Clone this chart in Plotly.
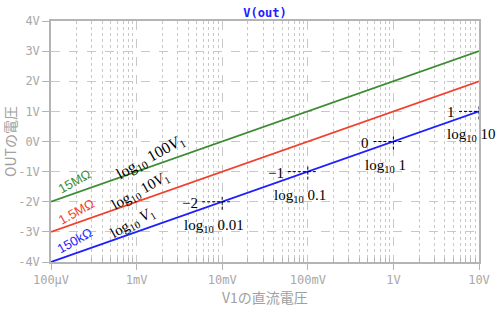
import numpy as np
import plotly.graph_objects as go

# ---- data ----
v1 = [1e-4, 1e-3, 1e-2, 1e-1, 1, 10]
out_150k = [-4, -3, -2, -1, 0, 1]
out_1p5M = [-3, -2, -1, 0, 1, 2]
out_15M = [-2, -1, 0, 1, 2, 3]
series_names = ["150kΩ", "1.5MΩ", "15MΩ"]
formula_labels = ["log<sub>10</sub> <i>V</i><sub>1</sub>",
                  "log<sub>10</sub> 10<i>V</i><sub>1</sub>",
                  "log<sub>10</sub> 100<i>V</i><sub>1</sub>"]
mark_x = [0.01, 0.1, 1, 10]
mark_y = [-2, -1, 0, 1]
mark_num = ["−2", "−1", "0", "1"]
mark_arg = ["0.01", "0.1", "1", "10"]
x_tickvals = [1e-4, 1e-3, 1e-2, 1e-1, 1, 10]
x_ticktext = ["100µV", "1mV", "10mV", "100mV", "1V", "10V"]
y_tickvals = [4, 3, 2, 1, 0, -1, -2, -3, -4]
y_ticktext = ["4V", "3V", "2V", "1V", "0V", "-1V", "-2V", "-3V", "-4V"]
x_title = "V1の直流電圧"
y_title = "OUTの電圧"

colors = ["#1e1eff", "#f0412d", "#3c8c32"]
series = [out_150k, out_1p5M, out_15M]

fig = go.Figure()
for vals, c, n in zip(series, colors, series_names):
    fig.add_trace(go.Scatter(x=v1, y=vals, mode="lines", name=n,
                             line=dict(color=c, width=1.8), showlegend=False,
                             hoverinfo="skip"))

# dashed crosses at marked points
PX_PER_DEC = 85.6
PX_PER_V = 30.125
for mx, my in zip(mark_x, mark_y):
    fig.add_trace(go.Scatter(x=[mx * 10 ** (-20 / PX_PER_DEC), mx * 10 ** (8 / PX_PER_DEC)],
                             y=[my, my], mode="lines", cliponaxis=False,
                             line=dict(color="black", width=1, dash="3px,2px"),
                             showlegend=False, hoverinfo="skip"))
    fig.add_trace(go.Scatter(x=[mx, mx], y=[my - 8 / PX_PER_V, my + 7 / PX_PER_V],
                             mode="lines", cliponaxis=False,
                             line=dict(color="black", width=1, dash="3px,2px"),
                             showlegend=False, hoverinfo="skip"))

ANG = -np.degrees(np.arctan((8 * PX_PER_V) / (5 * PX_PER_DEC)))
serif = dict(family="Liberation Serif", size=15, color="black")
annotations = []
# resistor labels
res_pos = [(-3.72, -3.30), (-3.70, -2.32), (-3.73, -1.32)]
for (lx, ly), c, n in zip(res_pos, colors, series_names):
    annotations.append(dict(x=lx, y=ly, xref="x", yref="y", text=n, showarrow=False,
                            textangle=ANG, font=dict(family="Liberation Sans", size=13, color=c)))
# formula labels
form_pos = [(-3.04, -2.72), (-2.95, -1.64), (-2.84, -0.53)]
form_sizes = [15, 15, 16]
for (lx, ly), t, s in zip(form_pos, formula_labels, form_sizes):
    annotations.append(dict(x=lx, y=ly, xref="x", yref="y", text=t, showarrow=False,
                            textangle=ANG, font=dict(family="Liberation Serif", size=s,
                                                     color="black")))
for mx, my, num, arg in zip(mark_x, mark_y, mark_num, mark_arg):
    annotations.append(dict(x=np.log10(mx), y=my, xref="x", yref="y", text=num,
                            showarrow=False, xanchor="right", xshift=-22, yshift=-1,
                            font=serif))
    annotations.append(dict(x=np.log10(mx), y=my, xref="x", yref="y",
                            text="log<sub>10</sub> " + arg,
                            showarrow=False, xshift=-8, yshift=-24, font=serif))
# x axis title
annotations.append(dict(x=0.5, y=-35 / 241, xref="paper", yref="paper", text=x_title,
                        showarrow=False, xanchor="center", yanchor="middle",
                        font=dict(family="Noto Sans CJK JP", size=14, color="#a0a0a0")))

grid = "#c8c8c8"
axcol = "#b4b4b4"
tickfont = dict(family="DejaVu Sans Mono", size=12, color="#a8a8a8")
minor_vals = [d * m for d in [1e-4, 1e-3, 1e-2, 1e-1, 1] for m in range(2, 10)]

fig.update_layout(
    width=500, height=310,
    margin=dict(l=51, r=21, t=21, b=48),
    paper_bgcolor="white", plot_bgcolor="white",
    title=dict(text="<b>V(out)</b>", x=0.53, xref="container", y=1 - 13 / 310,
               yref="container", xanchor="center", yanchor="middle",
               font=dict(family="DejaVu Sans Mono", size=12, color="#2020ff")),
    annotations=annotations,
    xaxis=dict(type="log", range=[-4, 1], tickvals=x_tickvals, ticktext=x_ticktext,
               automargin=False,
               showline=True, linecolor=axcol, linewidth=1.5, mirror=True,
               ticks="outside", ticklen=6, tickcolor=axcol, tickwidth=1,
               ticklabelstandoff=0,
               showgrid=True, gridcolor=grid, griddash="dash", gridwidth=1,
               zeroline=False, tickfont=tickfont,
               minor=dict(tickvals=minor_vals, ticks="inside", ticklen=4, tickcolor=axcol,
                          showgrid=True, gridcolor=grid, griddash="dot", gridwidth=1)),
    yaxis=dict(range=[-4, 4], tickvals=y_tickvals, ticktext=y_ticktext,
               automargin=False,
               showline=True, linecolor=axcol, linewidth=1.5, mirror=True,
               ticks="outside", ticklen=7, tickcolor=axcol, tickwidth=1,
               showgrid=True, gridcolor=grid, griddash="dash", gridwidth=1,
               zeroline=False, tickfont=tickfont,
               title=dict(text=y_title, standoff=4,
                          font=dict(family="Noto Sans CJK JP", size=14, color="#a0a0a0"))),
)

fig.write_html("out.html")
